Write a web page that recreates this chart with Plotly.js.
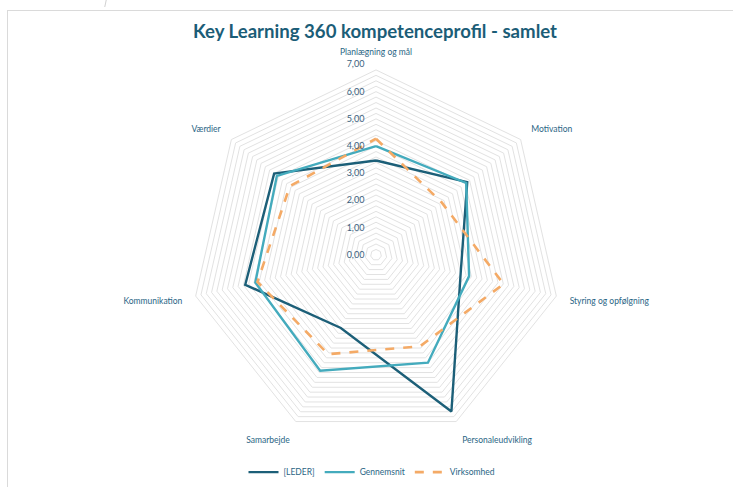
<!DOCTYPE html>
<html>
<head>
<meta charset="utf-8">
<script src="https://cdn.plot.ly/plotly-3.0.1.min.js"></script>
<style>
  html, body { margin: 0; padding: 0; background: #ffffff; }
  #chart { position: absolute; left: 0; top: 0; width: 733px; height: 487px; }
  .frame-top { position: absolute; left: 7px; top: 10px; width: 726px; height: 0; border-top: 1.5px solid #dadada; pointer-events: none; }
  .frame-left { position: absolute; left: 7px; top: 10px; width: 0; height: 477px; border-left: 1.5px solid #dadada; pointer-events: none; }
  .tick-mark { position: absolute; left: 105px; top: 0; width: 0; height: 7px; border-left: 1px solid #d0d0d0; transform: skewX(-12deg); pointer-events: none; }
</style>
</head>
<body>
<div id="chart"></div>
<div class="frame-top"></div>
<div class="frame-left"></div>
<div class="tick-mark"></div>
<script>
// Categories (clockwise from top)
const categories = ["Planlægning og mål", "Motivation", "Styring og opfølgning", "Personaleudvikling", "Samarbejde", "Kommunikation", "Værdier"];

// Series values
const leder      = [3.47, 4.29, 3.19, 6.39, 2.98, 4.93, 4.79];
const gennemsnit = [4.00, 4.24, 3.51, 4.40, 4.73, 4.55, 4.66];
const virksomhed = [4.27, 3.09, 4.81, 3.73, 4.05, 4.47, 4.05];

// Radial tick labels (major) and their values
const majorTickValues = [0, 1, 2, 3, 4, 5, 6, 7];
const majorTickLabels = ["0,00", "1,00", "2,00", "3,00", "4,00", "5,00", "6,00", "7,00"];
const minorStep = 0.2;

// Build gridline tick positions (major + minor), label only majors
const tickvals = [];
const ticktext = [];
const nSteps = Math.round(7 / minorStep);
for (let i = 0; i <= nSteps; i++) {
  const v = +(i * minorStep).toFixed(2);
  tickvals.push(v);
  const idx = majorTickValues.indexOf(v);
  ticktext.push(idx >= 0 ? majorTickLabels[idx] : "");
}

function closed(arr) { return arr.concat([arr[0]]); }
const theta = closed(categories);

const traces = [
  {
    type: "scatterpolar", mode: "lines", name: "[LEDER]",
    r: closed(leder), theta: theta,
    line: { color: "#1c5f78", width: 2.4 },
    hoverinfo: "skip"
  },
  {
    type: "scatterpolar", mode: "lines", name: "Gennemsnit",
    r: closed(gennemsnit), theta: theta,
    line: { color: "#44abbd", width: 2.4 },
    hoverinfo: "skip"
  },
  {
    type: "scatterpolar", mode: "lines", name: "Virksomhed",
    r: closed(virksomhed), theta: theta,
    line: { color: "#f4aa66", width: 2.6, dash: "dash" },
    hoverinfo: "skip"
  }
];

const layout = {
  width: 733, height: 487,
  margin: { l: 0, r: 0, t: 0, b: 0 },
  paper_bgcolor: "#ffffff",
  font: { family: "Lato, 'Open Sans', sans-serif", color: "#2a6585" },
  title: {
    text: "<b>Key Learning 360 kompetenceprofil - samlet</b>",
    font: { family: "Lato, 'Open Sans', sans-serif", size: 18.6, color: "#1b5d77" },
    x: 375 / 733, xanchor: "center", xref: "container",
    y: 1 - 31 / 487, yanchor: "middle", yref: "container"
  },
  polar: {
    domain: { x: [184 / 733, 568 / 733], y: [1 - 449 / 487, 1 - 65 / 487] },
    bgcolor: "rgba(0,0,0,0)",
    gridshape: "linear",
    radialaxis: {
      range: [0, 7],
      tickmode: "array", tickvals: tickvals, ticktext: ticktext,
      angle: 90, tickangle: 90, side: "counterclockwise",
      showline: false, ticks: "outside", ticklen: 8, tickcolor: "rgba(0,0,0,0)",
      gridcolor: "#e2e2e2", gridwidth: 1,
      tickfont: { size: 9, color: "#3b5f7e" }
    },
    angularaxis: {
      rotation: 90, direction: "clockwise",
      showgrid: false, showline: false,
      ticks: "outside", ticklen: 6, tickcolor: "rgba(0,0,0,0)",
      tickfont: { size: 8.5, color: "#2a6585" }
    }
  },
  showlegend: true,
  legend: {
    orientation: "h",
    x: 372 / 733, xanchor: "center",
    y: 1 - 476 / 487, yanchor: "middle",
    itemwidth: 30,
    font: { size: 8.5, color: "#2a6585" },
    bgcolor: "rgba(0,0,0,0)"
  }
};

Plotly.newPlot("chart", traces, layout, { displayModeBar: false, staticPlot: true });
</script>
</body>
</html>
